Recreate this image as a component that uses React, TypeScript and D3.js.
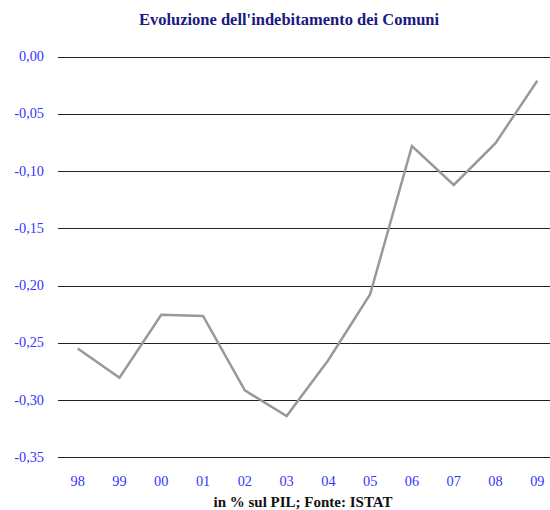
import React from "react";
import * as d3 from "d3";

const years = ["98", "99", "00", "01", "02", "03", "04", "05", "06", "07", "08", "09"];
const values = [-0.255, -0.2805, -0.2255, -0.2265, -0.2915, -0.314, -0.265, -0.2075, -0.078, -0.112, -0.0755, -0.021];
const yTicks = [0, -0.05, -0.1, -0.15, -0.2, -0.25, -0.3, -0.35];

const W = 550;
const H = 510;
const serif = "'Liberation Serif', 'DejaVu Serif', serif";

export default function App() {
  const x = d3.scalePoint<string>().domain(years).range([77.7, 537.3]);
  const y = d3.scaleLinear().domain([0, -0.35]).range([56.7, 457.3]);
  const line = d3
    .line<number>()
    .x((_, i) => x(years[i]) as number)
    .y((d) => y(d));
  const fmt = (v: number) => (Math.abs(v) < 1e-9 ? "0,00" : d3.format(".2f")(v).replace(".", ",").replace("−", "-"));

  return (
    <div style={{ position: "absolute", left: 0, top: 0 }}>
      <svg width={W} height={H} style={{ display: "block", background: "#fff" }}>
        <text x={289} y={25} textAnchor="middle" fontFamily={serif} fontWeight="bold" fontSize={16.5} fill="#1a1a80">
          Evoluzione dell'indebitamento dei Comuni
        </text>
        {yTicks.map((t) => (
          <g key={t}>
            <line x1={58} x2={550} y1={Math.round(y(t)) + 0.5} y2={Math.round(y(t)) + 0.5} stroke="#222" strokeWidth={1} />
            <text x={44} y={y(t) + 4.5} textAnchor="end" fontFamily={serif} fontSize={14.3} fill="#3535ff">
              {fmt(t)}
            </text>
          </g>
        ))}
        <path d={line(values) || ""} fill="none" stroke="#999" strokeWidth={2.5} strokeLinejoin="miter" />
        {years.map((yr) => (
          <text key={yr} x={x(yr)} y={486} textAnchor="middle" fontFamily={serif} fontSize={14.3} fill="#3535ff">
            {yr}
          </text>
        ))}
        <text x={303} y={507} textAnchor="middle" fontFamily={serif} fontWeight="bold" fontSize={15} fill="#111">
          in % sul PIL; Fonte: ISTAT
        </text>
      </svg>
    </div>
  );
}
